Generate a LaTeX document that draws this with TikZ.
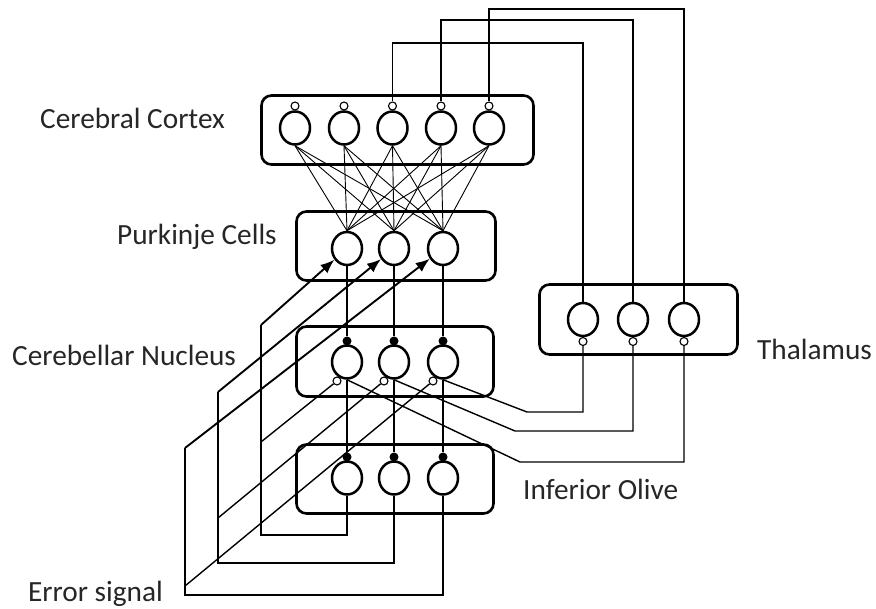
\documentclass[tikz,border=0pt]{standalone}
\usepackage{fontspec}
\setmainfont{Carlito}
\usetikzlibrary{shapes.geometric,arrows.meta,calc}
\begin{document}
\begin{tikzpicture}[x=1pt,y=-1pt,
  zone/.style={draw, rectangle, line width=2.6pt, rounded corners=10pt, inner sep=0pt},
  neuron/.style={draw, ellipse, fill=white, line width=2.5pt, minimum width=30pt, minimum height=33pt, inner sep=0pt},
  knob/.style={draw, circle, fill=white, line width=1.1pt, minimum size=8pt, inner sep=0pt},
  syn/.style={fill=black, circle, minimum size=9pt, inner sep=0pt},
  lbl/.style={anchor=base west, inner sep=0pt, text=black!85, font=\fontsize{29.3}{35}\selectfont},
  fiber/.style={line width=0.9pt},
  wire/.style={line width=1.4pt},
  strong/.style={line width=2.2pt},
  cfarrow/.style={line width=1.9pt, -{Latex[length=14pt,width=11pt]}}
]
\useasboundingbox (0,0) rectangle (876,609);

% regions
\node[zone, minimum width=272pt, minimum height=69pt] (cortex) at (397.5,130) {};
\node[zone, minimum width=199pt, minimum height=69pt] (purk) at (396,246) {};
\node[zone, minimum width=197pt, minimum height=70pt] (nuc) at (395,361.5) {};
\node[zone, minimum width=197pt, minimum height=69pt] (olive) at (395,479) {};
\node[zone, minimum width=198pt, minimum height=70pt] (thal) at (638.5,319.5) {};

% labels
\node[lbl] (lc) at (40,129) {Cerebral Cortex};
\node[lbl] (lp) at (117,245) {Purkinje Cells};
\node[lbl] (ln) at (12,366) {Cerebellar Nucleus};
\node[lbl] (lt) at (757,360) {Thalamus};
\node[lbl] (lo) at (523,500) {Inferior Olive};
\node[lbl] (le) at (28,601) {Error signal};

% cortex neurons
\foreach \i/\x in {1/295,2/344,3/392.5,4/441,5/489}{
  \node[neuron] (c\i) at (\x,128) {};
  \node[knob] (ck\i) at (\x,106) {};
}
% purkinje, nucleus, olive columns
\foreach \i/\x in {1/347,2/394,3/443}{
  \node[neuron] (p\i) at (\x,248.5) {};
  \node[neuron] (n\i) at (\x,362) {};
  \node[syn] (nd\i) at (\x,341) {};
  \node[knob] (nk\i) at (\x-10,381) {};
  \node[neuron] (o\i) at (\x,478) {};
  \node[syn] (od\i) at (\x,457) {};
}
% thalamus
\foreach \i/\x in {1/583,2/633,3/684}{
  \node[neuron] (t\i) at (\x,319.5) {};
  \node[knob] (tk\i) at (\x,341.5) {};
}

% cortex -> purkinje
\foreach \i in {1,...,5}{
  \foreach \j in {1,2,3}{
    \draw[fiber] (c\i.south) -- (p\j.north);
  }
}

% purkinje -> nucleus, nucleus -> olive
\foreach \i in {1,2,3}{
  \draw[strong] (p\i.south) -- (nd\i.north);
  \draw[strong] (n\i.south) -- (od\i.north);
}

% thalamus -> cortex
\coordinate (h1) at (0,43);
\coordinate (h2) at (0,20);
\coordinate (h3) at (0,9);
\draw[wire] (t1.north) -- (t1.north |- h1) -- (ck3.north |- h1) -- (ck3.north);
\draw[wire] (t2.north) -- (t2.north |- h2) -- (ck4.north |- h2) -- (ck4.north);
\draw[wire] (t3.north) -- (t3.north |- h3) -- (ck5.north |- h3) -- (ck5.north);

% nucleus -> thalamus
\coordinate (m1) at (527,412);
\coordinate (m2) at (515,431);
\coordinate (m3) at (520,462);
\draw[wire] (n3.south) -- (m1) -- (m1 -| tk1) -- (tk1.south);
\draw[wire] (n2.south) -- (m2) -- (m2 -| tk2) -- (tk2.south);
\draw[wire] (n1.south) -- (m3) -- (m3 -| tk3) -- (tk3.south);

% climbing fibres (olive -> purkinje)
\coordinate (b1) at (261,535);
\coordinate (u1) at (261,325);
\coordinate (b2) at (218,563);
\coordinate (u2) at (218,392);
\coordinate (b3) at (185,595);
\coordinate (u3) at (185,448);
\draw[wire] (o1.south) -- (o1.south |- b1) -- (b1) -- (u1);
\draw[wire] (o2.south) -- (o2.south |- b2) -- (b2) -- (u2);
\draw[wire] (o3.south) -- (o3.south |- b3) -- (b3) -- (u3);
\draw[cfarrow] (u1) -- (p1);
\draw[cfarrow] (u2) -- (p2);
\draw[cfarrow] (u3) -- (p3);

% nucleus collaterals to climbing fibres
\coordinate (j1) at (261,442);
\coordinate (j2) at (218,518);
\coordinate (j3) at (185,586);
\draw[wire] (nk1) -- (j1);
\draw[wire] (nk2) -- (j2);
\draw[wire] (nk3) -- (j3);
\end{tikzpicture}
\end{document}
